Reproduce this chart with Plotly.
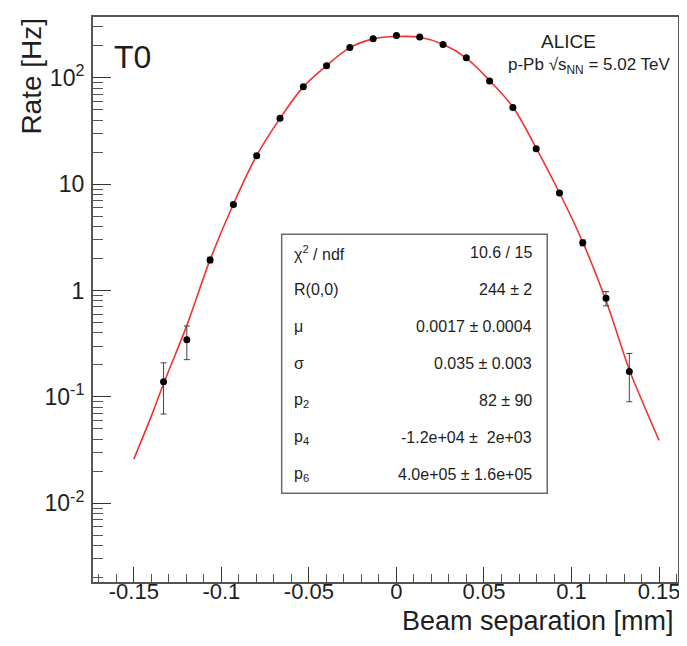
import plotly.graph_objects as go

# ---- data ----
beam_sep = [-0.1330, -0.1197, -0.1064, -0.0931, -0.0798, -0.0665, -0.0532,
            -0.0399, -0.0266, -0.0133, 0.0, 0.0133, 0.0266, 0.0399, 0.0532,
            0.0665, 0.0798, 0.0931, 0.1064, 0.1197, 0.1330]
rate = [0.139, 0.344, 1.94, 6.43, 18.5, 41.6, 82.4, 129.5, 192, 233, 249,
        242, 205, 154, 93, 52.4, 21.5, 8.26, 2.81, 0.847, 0.173]
rate_err = [0.07, 0.12, 0.12, 0.25, 0.5, 0.9, 1.4, 1.8, 2.2, 2.5, 2.6,
            2.5, 2.3, 2.0, 1.5, 1.0, 0.6, 0.3, 0.18, 0.13, 0.083]

# fitted curve
fit_x = [-0.150, -0.140, -0.1330, -0.1197, -0.1064, -0.0931, -0.0798, -0.0665,
         -0.0532, -0.0399, -0.0266, -0.0133, 0.0, 0.0133, 0.0266, 0.0399,
         0.0532, 0.0665, 0.0798, 0.0931, 0.1064, 0.1197, 0.1330, 0.140, 0.150]
fit_y = [0.026, 0.066, 0.133, 0.47, 1.95, 6.5, 18.6, 41.5, 82, 130, 192, 232,
         244, 240, 206, 153, 94, 53, 21.8, 8.3, 2.85, 0.80, 0.180, 0.094, 0.039]

x_tickvals = [-0.15, -0.1, -0.05, 0, 0.05, 0.1, 0.15]
x_ticktext = ["-0.15", "-0.1", "-0.05", "0", "0.05", "0.1", "0.15"]
y_tickvals = [0.01, 0.1, 1, 10, 100]
y_ticktext = ["10<sup>-2</sup>", "10<sup>-1</sup>", "1", "10", "10<sup>2</sup>"]

stat_labels = ["χ<sup>2</sup> / ndf", "R(0,0)", "μ", "σ",
               "p<sub>2</sub>", "p<sub>4</sub>", "p<sub>6</sub>"]
stat_values = ["10.6 / 15", "244 ± 2", "0.0017 ± 0.0004", "0.035 ± 0.003",
               "82 ± 90", "-1.2e+04 ±  2e+03", "4.0e+05 ± 1.6e+05"]

# ---- layout geometry ----
# The page body adds an 8 px margin, so the figure is drawn 8 px smaller
# and all screen positions are shifted by that offset.
OFF = 8
W, H = 687 - OFF, 646 - OFF
L, R, T, B = 93 - OFF, 8, 15 - OFF, 64
PW, PH = W - L - R, H - T - B


def px(x):
    """screen x (reference pixels) -> paper fraction"""
    return (x - OFF - L) / PW


def py(y):
    """screen y (reference pixels) -> paper fraction"""
    return (H - B - (y - OFF)) / PH


FONT = "Liberation Sans, Arial, Helvetica, sans-serif"
TXT = "#1e1e1e"

fig = go.Figure()

fig.add_trace(go.Scatter(
    x=fit_x, y=fit_y, mode="lines",
    line=dict(color="#f03232", width=1.6, shape="spline", smoothing=1.0),
    hoverinfo="skip", showlegend=False))

fig.add_trace(go.Scatter(
    x=beam_sep, y=rate, mode="markers",
    marker=dict(color="black", size=7, symbol="circle"),
    error_y=dict(type="data", array=rate_err, visible=True,
                 color="#444444", thickness=1, width=3),
    showlegend=False))

minor_y = [m * 10 ** e for e in range(-3, 3) for m in range(2, 10)]

fig.update_xaxes(
    range=[-0.1733, 0.1608], tickvals=x_tickvals, ticktext=x_ticktext,
    ticks="inside", ticklen=15, tickwidth=1.3, tickcolor="#333",
    showline=True, mirror=True, linecolor="#555", linewidth=2,
    showgrid=False, zeroline=False, ticklabelstandoff=-11,
    ticklabeloverflow="allow",
    tickfont=dict(size=22, color=TXT, family=FONT),
    minor=dict(dtick=0.01, tick0=0, ticks="inside", ticklen=8,
               tickwidth=1, tickcolor="#555", showgrid=False))

fig.update_yaxes(
    type="log", range=[-2.740, 2.571], tickvals=y_tickvals, ticktext=y_ticktext,
    ticks="inside", ticklen=18, tickwidth=1.3, tickcolor="#333",
    showline=True, mirror=True, linecolor="#555", linewidth=2,
    showgrid=False, zeroline=False, ticklabelstandoff=2,
    tickfont=dict(size=23, color=TXT, family=FONT),
    minor=dict(tickvals=minor_y, ticks="inside", ticklen=10,
               tickwidth=1, tickcolor="#555", showgrid=False))

annotations = []
# axis titles
annotations.append(dict(text="Beam separation [mm]", x=px(677), y=py(621),
                        xref="paper", yref="paper", xanchor="right",
                        yanchor="middle", showarrow=False,
                        font=dict(size=27, color=TXT, family=FONT)))
annotations.append(dict(text="Rate [Hz]", x=px(31), y=py(14),
                        xref="paper", yref="paper", xanchor="center",
                        yanchor="top", textangle=-90, showarrow=False,
                        font=dict(size=28, color=TXT, family=FONT)))
# labels in frame
annotations.append(dict(text="T0", x=px(133), y=py(55), xref="paper",
                        yref="paper", xanchor="center", yanchor="middle",
                        showarrow=False,
                        font=dict(size=32, color=TXT, family=FONT)))
annotations.append(dict(text="ALICE", x=px(569), y=py(40), xref="paper",
                        yref="paper", xanchor="center", yanchor="middle",
                        showarrow=False,
                        font=dict(size=19, color=TXT, family=FONT)))
annotations.append(dict(text="p-Pb √s<sub>NN</sub> = 5.02 TeV", x=px(673),
                        y=py(64), xref="paper", yref="paper",
                        xanchor="right", yanchor="middle", showarrow=False,
                        font=dict(size=17, color=TXT, family=FONT)))

# stats box
bx0, bx1, by0, by1 = 282, 548, 233, 493
row_h = (by1 - by0) / len(stat_labels)
for i, (lab, val) in enumerate(zip(stat_labels, stat_values)):
    yc = by0 + (i + 0.5) * row_h
    annotations.append(dict(text=lab, x=px(292), y=py(yc), xref="paper",
                            yref="paper", xanchor="left", yanchor="middle",
                            showarrow=False,
                            font=dict(size=16, color=TXT, family=FONT)))
    annotations.append(dict(text=val, x=px(535), y=py(yc), xref="paper",
                            yref="paper", xanchor="right", yanchor="middle",
                            showarrow=False,
                            font=dict(size=16, color=TXT, family=FONT)))

fig.update_layout(
    width=W, height=H, margin=dict(l=L, r=R, t=T, b=B),
    plot_bgcolor="white", paper_bgcolor="white",
    font=dict(family=FONT, color=TXT),
    annotations=annotations,
    shapes=[dict(type="rect", xref="paper", yref="paper",
                 x0=px(bx0), x1=px(bx1), y0=py(by1), y1=py(by0),
                 line=dict(color="#6a6a6a", width=1.5), fillcolor="white",
                 layer="above")],
    showlegend=False)

fig.write_html("out.html")
